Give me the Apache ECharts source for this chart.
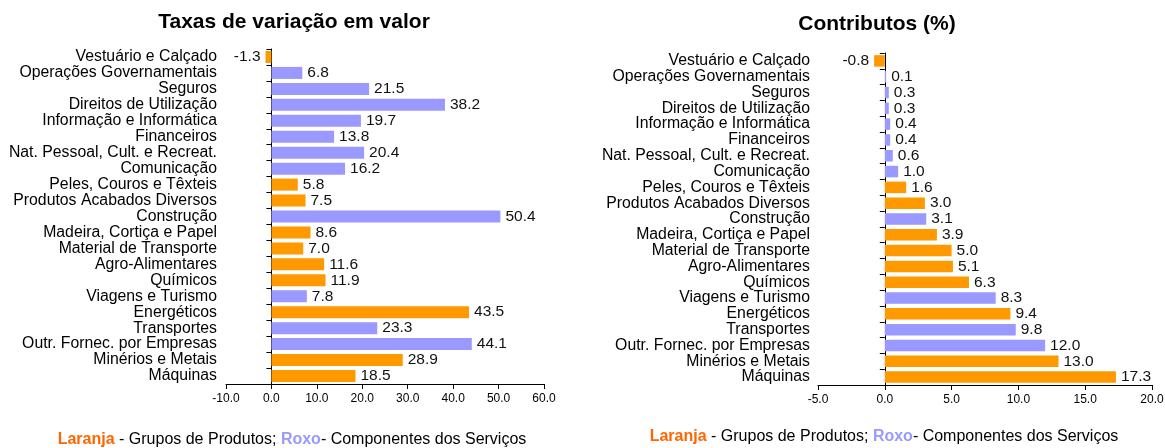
<!DOCTYPE html>
<html>
<head>
<meta charset="utf-8">
<script src="https://cdn.jsdelivr.net/npm/echarts@6/dist/echarts.min.js"></script>
<style>
  html, body { margin: 0; padding: 0; background: #fff; }
  #main { width: 1165px; height: 448px; }
</style>
</head>
<body>
<div id="main"></div>
<script>
// categories, top to bottom
const categories = [
  'Vestuário e Calçado', 'Operações Governamentais', 'Seguros', 'Direitos de Utilização',
  'Informação e Informática', 'Financeiros', 'Nat. Pessoal, Cult. e Recreat.', 'Comunicação',
  'Peles, Couros e Têxteis', 'Produtos Acabados Diversos', 'Construção', 'Madeira, Cortiça e Papel',
  'Material de Transporte', 'Agro-Alimentares', 'Químicos', 'Viagens e Turismo',
  'Energéticos', 'Transportes', 'Outr. Fornec. por Empresas', 'Minérios e Metais', 'Máquinas'
]
// P = grupo de produtos (laranja), S = componente dos serviços (roxo)
const groups = ['P', 'S', 'S', 'S', 'S', 'S', 'S', 'S', 'P', 'P', 'S', 'P', 'P', 'P', 'P', 'S', 'P', 'S', 'S', 'P', 'P']
const taxas = [-1.3, 6.8, 21.5, 38.2, 19.7, 13.8, 20.4, 16.2, 5.8, 7.5, 50.4, 8.6, 7.0, 11.6, 11.9, 7.8, 43.5, 23.3, 44.1, 28.9, 18.5]
const contributos = [-0.8, 0.1, 0.3, 0.3, 0.4, 0.4, 0.6, 1.0, 1.6, 3.0, 3.1, 3.9, 5.0, 5.1, 6.3, 8.3, 9.4, 9.8, 12.0, 13.0, 17.3]

const ORANGE = '#FF9900'
const PURPLE = '#9999FF'
const FONT = '"Liberation Sans", Arial, sans-serif'

function toData (values) {
  return values.map((v, i) => ({
    value: v,
    itemStyle: { color: groups[i] === 'P' ? ORANGE : PURPLE },
    label: { position: v < 0 ? 'left' : 'right' }
  }))
}

function xAxisFor (idx, min, max, interval) {
  return {
    gridIndex: idx,
    type: 'value',
    min: min,
    max: max,
    interval: interval,
    splitLine: { show: false },
    axisLine: { show: true, lineStyle: { color: '#000' } },
    axisTick: { show: true, length: 5, lineStyle: { color: '#000' } },
    axisLabel: { color: '#000', fontSize: 12, fontFamily: FONT, margin: 9, formatter: v => v.toFixed(1) }
  }
}

function yAxisFor (idx, margin) {
  return {
    gridIndex: idx,
    type: 'category',
    inverse: true,
    data: categories,
    axisLine: { show: true, onZero: true, lineStyle: { color: '#000' } },
    axisTick: { show: true, length: 5, lineStyle: { color: '#000' } },
    axisLabel: { color: '#000', fontSize: 15.8, fontFamily: FONT, margin: margin, interval: 0 }
  }
}

function seriesFor (idx, values, barWidth) {
  return {
    type: 'bar',
    xAxisIndex: idx,
    yAxisIndex: idx,
    barWidth: barWidth,
    data: toData(values),
    label: {
      show: true,
      distance: 5,
      color: '#111',
      fontSize: 15.5,
      fontFamily: FONT,
      formatter: p => p.value.toFixed(1)
    }
  }
}

const legendRich = {
  o: { fill: '#FF6600', fontWeight: 'bold', fontSize: 16, fontFamily: FONT },
  p: { fill: PURPLE, fontWeight: 'bold', fontSize: 16, fontFamily: FONT },
  t: { fill: '#000', fontSize: 16, fontFamily: FONT }
}
const legendText = '{o|Laranja}{t| - Grupos de Produtos; }{p|Roxo}{t|- Componentes dos Serviços}'

let myChart = echarts.init(document.getElementById('main'))
let option = {
  backgroundColor: '#fff',
  animation: false,
  grid: [
    { left: 226, width: 318, top: 49, height: 335, containLabel: false, outerBoundsMode: 'none' },
    { left: 818, width: 334, top: 53, height: 332, containLabel: false, outerBoundsMode: 'none' }
  ],
  xAxis: [xAxisFor(0, -10, 60, 10), xAxisFor(1, -5, 20, 5)],
  yAxis: [yAxisFor(0, 9), yAxisFor(1, 8)],
  series: [seriesFor(0, taxas, 12), seriesFor(1, contributos, 11.5)],
  graphic: [
    {
      type: 'text', x: 294, y: 22,
      style: { text: 'Taxas de variação em valor', fontSize: 21, fontWeight: 'bold', fontFamily: FONT, fill: '#000', align: 'center', verticalAlign: 'middle' }
    },
    {
      type: 'text', x: 877, y: 24,
      style: { text: 'Contributos (%)', fontSize: 21, fontWeight: 'bold', fontFamily: FONT, fill: '#000', align: 'center', verticalAlign: 'middle' }
    },
    {
      type: 'text', x: 292, y: 440,
      style: { text: legendText, rich: legendRich, align: 'center', verticalAlign: 'middle' }
    },
    {
      type: 'text', x: 884, y: 437,
      style: { text: legendText, rich: legendRich, align: 'center', verticalAlign: 'middle' }
    }
  ]
}
option && myChart.setOption(option)
</script>
</body>
</html>
